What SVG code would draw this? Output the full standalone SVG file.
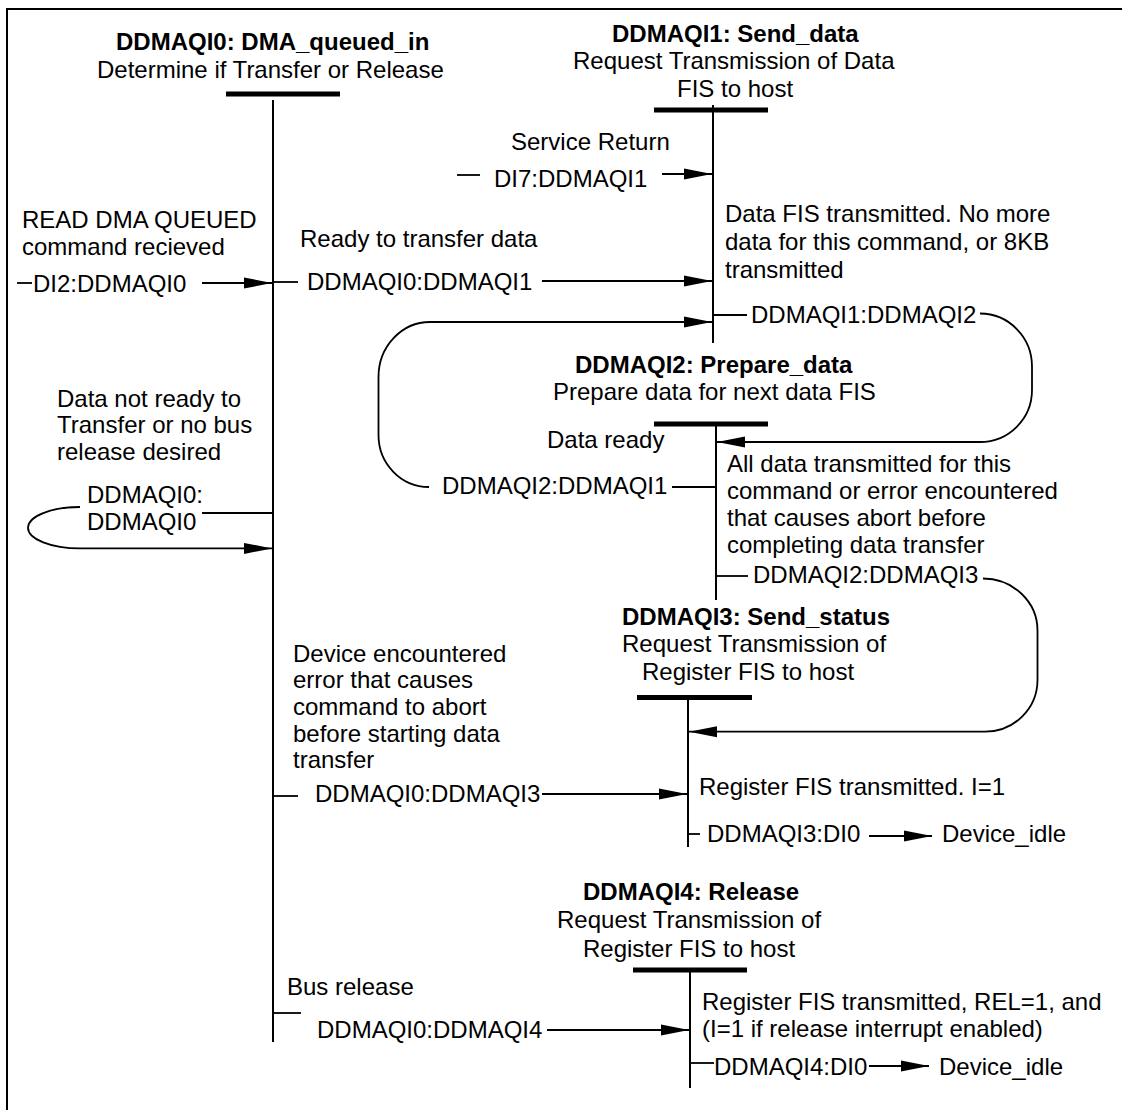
<svg xmlns="http://www.w3.org/2000/svg" width="1122" height="1110" viewBox="0 0 1122 1110">
<style>
.t{font-family:"Liberation Sans",Arial,Helvetica,sans-serif;font-size:24px;fill:#000}
.b{font-weight:bold}
.bar{stroke:#000;stroke-width:5;fill:none}
.life{stroke:#000;stroke-width:2;fill:none}
.c{stroke:#000;stroke-width:1.8;fill:none}
.a{marker-end:url(#ah)}
.frame{stroke:#000;stroke-width:2;fill:none}
</style>
<defs>
<marker id="ah" markerUnits="userSpaceOnUse" markerWidth="28" markerHeight="12" refX="28" refY="6" orient="auto">
<path d="M0,0.5 L28,6 L0,11.5 z" fill="#000"/>
</marker>
</defs>
<rect width="1122" height="1110" fill="#fff"/>
<path class="frame" d="M7,1110 L7,9 L1122,9"/>

<g id="state-DDMAQI0">
<text class="t b" x="116" y="50">DDMAQI0: DMA_queued_in</text>
<text class="t" x="97" y="78">Determine if Transfer or Release</text>
<line class="bar" x1="226" y1="94" x2="340" y2="94"/>
<line class="life" x1="273" y1="100" x2="273" y2="1042"/>
</g>

<g id="state-DDMAQI1">
<text class="t b" x="612" y="42">DDMAQI1: Send_data</text>
<text class="t" x="573" y="69">Request Transmission of Data</text>
<text class="t" x="677" y="97">FIS to host</text>
<line class="bar" x1="654" y1="110" x2="768" y2="110"/>
<line class="life" x1="713" y1="105" x2="713" y2="343"/>
</g>

<g id="state-DDMAQI2">
<text class="t b" x="575" y="373">DDMAQI2: Prepare_data</text>
<text class="t" x="553" y="400">Prepare data for next data FIS</text>
<line class="bar" x1="654" y1="424" x2="768" y2="424"/>
<line class="life" x1="716" y1="424" x2="716" y2="600"/>
</g>

<g id="state-DDMAQI3">
<text class="t b" x="622" y="625">DDMAQI3: Send_status</text>
<text class="t" x="622" y="652">Request Transmission of</text>
<text class="t" x="642" y="680">Register FIS to host</text>
<line class="bar" x1="637" y1="697.5" x2="752" y2="697.5"/>
<line class="life" x1="688" y1="697" x2="688" y2="847"/>
</g>

<g id="state-DDMAQI4">
<text class="t b" x="583" y="900">DDMAQI4: Release</text>
<text class="t" x="557" y="928">Request Transmission of</text>
<text class="t" x="583" y="957">Register FIS to host</text>
<line class="bar" x1="633" y1="970" x2="747" y2="970"/>
<line class="life" x1="690" y1="970" x2="690" y2="1088"/>
</g>

<g id="connectors">
<g id="c-DI2-DDMAQI0">
<text class="t" x="22" y="228">READ DMA QUEUED</text>
<text class="t" x="22" y="255">command recieved</text>
<line class="c" x1="17" y1="283" x2="32" y2="283"/>
<text class="t" x="33" y="292">DI2:DDMAQI0</text>
<line class="c a" x1="202" y1="283" x2="272" y2="283"/>
</g>
<g id="c-DDMAQI0-DDMAQI1">
<text class="t" x="300" y="247">Ready to transfer data</text>
<line class="c" x1="273" y1="282" x2="298" y2="282"/>
<text class="t" x="307" y="290">DDMAQI0:DDMAQI1</text>
<line class="c a" x1="542" y1="281" x2="712" y2="281"/>
</g>
<g id="c-DI7-DDMAQI1">
<text class="t" x="511" y="150">Service Return</text>
<line class="c" x1="457" y1="175" x2="480" y2="175"/>
<text class="t" x="494" y="187">DI7:DDMAQI1</text>
<line class="c a" x1="662" y1="174" x2="712" y2="174"/>
</g>
<g id="c-DDMAQI0-DDMAQI0">
<text class="t" x="57" y="407">Data not ready to</text>
<text class="t" x="57" y="433">Transfer or no bus</text>
<text class="t" x="57" y="460">release desired</text>
<text class="t" x="87" y="503">DDMAQI0:</text>
<text class="t" x="87" y="530">DDMAQI0</text>
<line class="c" x1="202" y1="513" x2="273" y2="513"/>
<path class="c a" d="M80,507 A52,20.7 0 0 0 80,548.4 L272,548.4"/>
</g>
<g id="c-DDMAQI1-DDMAQI2">
<text class="t" x="725" y="222">Data FIS transmitted. No more</text>
<text class="t" x="725" y="250">data for this command, or 8KB</text>
<text class="t" x="725" y="278">transmitted</text>
<line class="c" x1="713" y1="315" x2="747" y2="315"/>
<text class="t" x="751" y="323">DDMAQI1:DDMAQI2</text>
<path class="c a" d="M980,313.5 A52,53 0 0 1 1032,366.5 L1032,390 A52,52 0 0 1 980,442 L717,442"/>
</g>
<g id="c-DDMAQI2-DDMAQI1">
<text class="t" x="547" y="448">Data ready</text>
<line class="c" x1="716" y1="487" x2="672" y2="487"/>
<text class="t" x="442" y="494">DDMAQI2:DDMAQI1</text>
<path class="c a" d="M429,487 A50.5,52 0 0 1 378.5,435 L378.5,377 A51.5,55 0 0 1 430,322 L712,322"/>
</g>
<g id="c-DDMAQI2-DDMAQI3">
<text class="t" x="727" y="472">All data transmitted for this</text>
<text class="t" x="727" y="499">command or error encountered</text>
<text class="t" x="727" y="526">that causes abort before</text>
<text class="t" x="727" y="553">completing data transfer</text>
<line class="c" x1="716" y1="576" x2="748" y2="576"/>
<text class="t" x="753" y="583">DDMAQI2:DDMAQI3</text>
<path class="c a" d="M983,578.5 A54.5,52 0 0 1 1037.5,630.5 L1037.5,680 A52.5,51.7 0 0 1 985,731.7 L689,731.7"/>
</g>
<g id="c-DDMAQI0-DDMAQI3">
<text class="t" x="293" y="662">Device encountered</text>
<text class="t" x="293" y="688">error that causes</text>
<text class="t" x="293" y="715">command to abort</text>
<text class="t" x="293" y="742">before starting data</text>
<text class="t" x="293" y="768">transfer</text>
<line class="c" x1="273" y1="796" x2="298" y2="796"/>
<text class="t" x="315" y="802">DDMAQI0:DDMAQI3</text>
<line class="c a" x1="542" y1="794" x2="687" y2="794"/>
</g>
<g id="c-DDMAQI3-DI0">
<text class="t" x="699" y="795">Register FIS transmitted. I=1</text>
<line class="c" x1="688" y1="834" x2="700" y2="834"/>
<text class="t" x="707" y="842">DDMAQI3:DI0</text>
<line class="c a" x1="869" y1="836" x2="932" y2="836"/>
<text class="t" x="942" y="842">Device_idle</text>
</g>
<g id="c-DDMAQI0-DDMAQI4">
<text class="t" x="287" y="995">Bus release</text>
<line class="c" x1="273" y1="1013" x2="301" y2="1013"/>
<text class="t" x="317" y="1038">DDMAQI0:DDMAQI4</text>
<line class="c a" x1="547" y1="1030" x2="689" y2="1030"/>
</g>
<g id="c-DDMAQI4-DI0">
<text class="t" x="702" y="1010">Register FIS transmitted, REL=1, and</text>
<text class="t" x="702" y="1037">(I=1 if release interrupt enabled)</text>
<line class="c" x1="690" y1="1063" x2="714" y2="1063"/>
<text class="t" x="714" y="1075">DDMAQI4:DI0</text>
<line class="c a" x1="869" y1="1066" x2="929" y2="1066"/>
<text class="t" x="939" y="1075">Device_idle</text>
</g>
</g>
</svg>
